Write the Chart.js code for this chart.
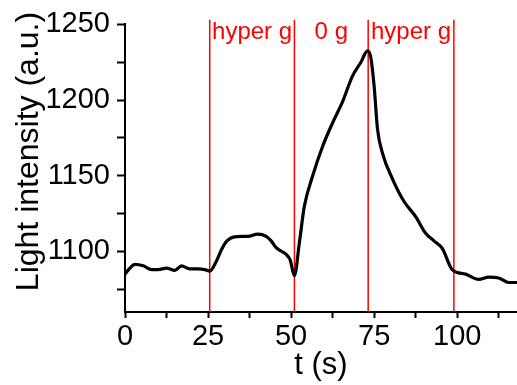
<!DOCTYPE html>
<html>
<head>
<meta charset="utf-8">
<script src="https://cdn.jsdelivr.net/npm/chart.js@4.4.1/dist/chart.umd.min.js"></script>
<style>
  html, body { margin: 0; padding: 0; background: #fff; }
</style>
</head>
<body>
<canvas id="lightChart" width="517" height="385"></canvas>
<script>
// --- data ---
const timeSec = [0, 1.5, 3, 5.5, 8, 10, 12.5, 15, 17, 19.5, 22, 24, 25.5, 27.5, 29, 30.5, 33.5, 37, 40, 42.5,
  44, 45.5, 48.5, 49.7, 51, 52.5, 54, 56.5, 59.5, 62.5, 65.5, 68.5, 71, 73, 74, 75, 76, 77.5, 80.5, 84,
  87.5, 90.5, 93, 95.5, 98.5, 102.5, 106.5, 109.5, 112.5, 115.5, 118];
const intensity = [1085, 1089, 1091.5, 1090.5, 1088, 1088, 1089, 1087.5, 1090.5, 1088.5, 1088.5, 1088, 1087, 1093.5, 1101, 1106.5, 1109.8, 1110, 1111.5, 1110,
  1107, 1102.5, 1098, 1094.5, 1084, 1106, 1130, 1150, 1169.5, 1185, 1199, 1216, 1225, 1232.5, 1228, 1209, 1181, 1165, 1148, 1133,
  1123, 1112, 1107, 1102, 1088, 1085, 1081.5, 1083, 1082.5, 1079.5, 1079.5];

// phase boundaries (red lines) and their names
const markerTimes = [25.5, 51, 73.2, 99];
const phaseNames = ['hyper g', '0 g', 'hyper g'];

const xTickValues = [0, 12.5, 25, 37.5, 50, 62.5, 75, 87.5, 100, 112.5];
const yTickValues = [1075, 1100, 1125, 1150, 1175, 1200, 1225, 1250];
const xRange = [0, 118];
const yRange = [1060, 1250];
const markerTop = 1253;

const FONT = "'Liberation Sans', Arial, sans-serif";

// trace + one dataset per red line
const traceData = timeSec.map((t, i) => ({ x: t, y: intensity[i] }));
const markerSets = markerTimes.map(t => ({
    data: [{ x: t, y: yRange[0] }, { x: t, y: markerTop }],
    borderColor: '#ff0000',
    borderWidth: 1.5,
    pointRadius: 0,
    clip: false,
    order: 2
}));

// phase labels + y title
const labelsPlugin = {
    id: 'phaseLabels',
    afterDatasetsDraw(chart) {
        const { ctx, chartArea, scales } = chart;
        ctx.save();
        ctx.fillStyle = '#ff0000';
        ctx.font = `24px ${FONT}`;
        ctx.textAlign = 'center';
        ctx.textBaseline = 'alphabetic';
        phaseNames.forEach((name, i) => {
            const mid = (markerTimes[i] + markerTimes[i + 1]) / 2;
            ctx.fillText(name, scales.x.getPixelForValue(mid), chartArea.top + 15);
        });
        // y axis title
        ctx.fillStyle = '#000';
        ctx.font = `32px ${FONT}`;
        ctx.translate(38, 151.5);
        ctx.rotate(-Math.PI / 2);
        ctx.fillText('Light intensity (a.u.)', 0, 0);
        ctx.restore();
    }
};

new Chart(document.getElementById('lightChart'), {
    type: 'line',
    data: {
        datasets: [{
            data: traceData,
            borderColor: '#000',
            borderWidth: 3.2,
            pointRadius: 0,
            cubicInterpolationMode: 'monotone',
            order: 1
        }, ...markerSets]
    },
    options: {
        responsive: false,
        animation: false,
        layout: { padding: { top: 18, right: 0, left: 0, bottom: 0 } },
        plugins: { legend: { display: false }, tooltip: { enabled: false } },
        scales: {
            x: {
                type: 'linear',
                min: xRange[0],
                max: xRange[1],
                afterBuildTicks: axis => { axis.ticks = xTickValues.map(v => ({ value: v })); },
                afterFit: axis => { axis.height = 73; },
                ticks: {
                    autoSkip: false,
                    maxRotation: 0,
                    padding: 2,
                    color: '#000',
                    font: { family: FONT, size: 29 },
                    callback: v => (v % 25 === 0 ? v : '')
                },
                grid: { drawOnChartArea: false, tickLength: 6, tickColor: '#000', tickWidth: 2 },
                border: { color: '#000', width: 2 },
                title: {
                    display: true,
                    text: 't (s)',
                    color: '#000',
                    font: { family: FONT, size: 31 },
                    padding: { top: 0, bottom: 1 }
                }
            },
            y: {
                type: 'linear',
                min: yRange[0],
                max: yRange[1],
                afterBuildTicks: axis => { axis.ticks = yTickValues.map(v => ({ value: v })); },
                afterFit: axis => { axis.width = 125; },
                ticks: {
                    autoSkip: false,
                    padding: 7,
                    color: '#000',
                    font: { family: FONT, size: 29 },
                    callback: v => (v % 50 === 0 ? v : '')
                },
                grid: { drawOnChartArea: false, tickLength: 8, tickColor: '#000', tickWidth: 2 },
                border: { color: '#000', width: 2 }
            }
        }
    },
    plugins: [labelsPlugin]
});
</script>
</body>
</html>
